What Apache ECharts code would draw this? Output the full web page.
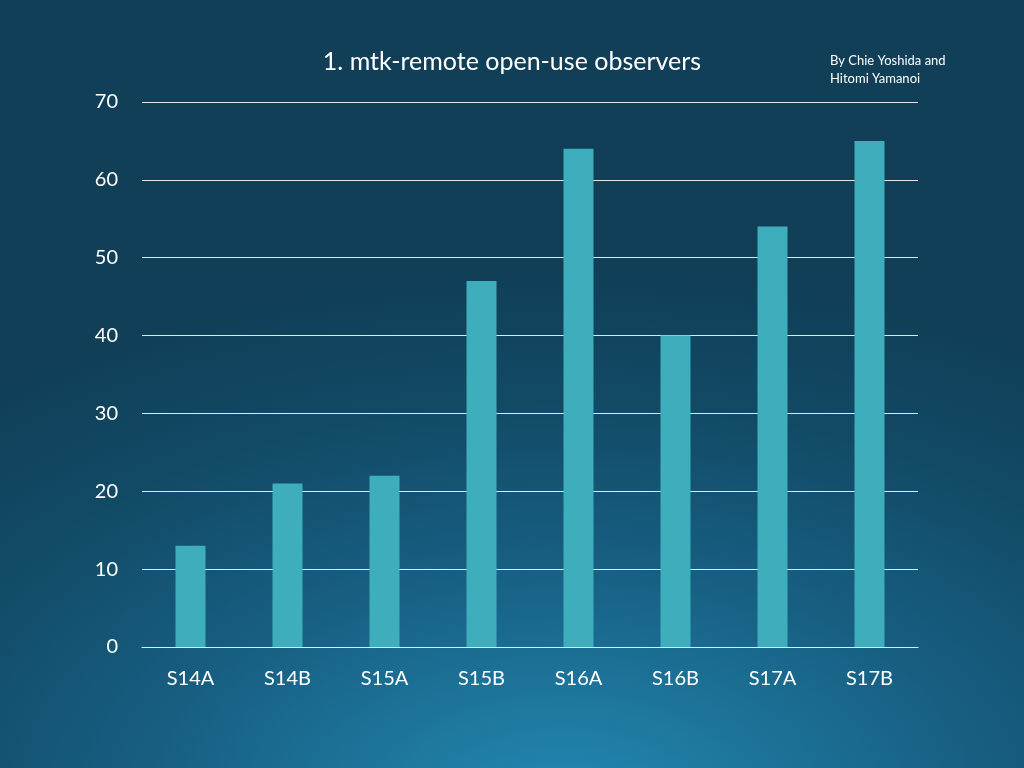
<!DOCTYPE html>
<html><head><meta charset="utf-8">
<script src="https://cdn.jsdelivr.net/npm/echarts@6/dist/echarts.min.js"></script>
<style>html,body{margin:0;padding:0;}#c{width:1024px;height:768px;background:radial-gradient(ellipse 90% 70% at 55% 105%, #2389b3 0%, #175f82 45%, #124a66 75%, #103f57 100%);}</style>
</head><body><div id="c"></div>
<script>
const categories = ["S14A","S14B","S15A","S15B","S16A","S16B","S17A","S17B"];
const values = [13,21,22,47,64,40,54,65];
const chart = echarts.init(document.getElementById('c'));
chart.setOption({
  backgroundColor: 'transparent',
  title: [
    {text:'1. mtk-remote open-use observers', left:507, top:44, textAlign:'center',
     textStyle:{color:'#ffffff', fontSize:25, fontWeight:'normal', fontFamily:'Lato'}},
    {text:'By Chie Yoshida and\nHitomi Yamanoi', left:825, top:47,
     textStyle:{color:'#ffffff', fontSize:13, fontWeight:'normal', fontFamily:'Lato', lineHeight:18}}
  ],
  grid:{left:142, right:106, top:102, bottom:121},
  xAxis:{type:'category', data:categories,
    axisLine:{lineStyle:{color:'#e0e8ee'}}, axisTick:{show:false},
    axisLabel:{color:'#ffffff', fontSize:20, fontFamily:'Lato', margin:22}},
  yAxis:{type:'value', min:0, max:70, interval:10,
    axisLine:{show:false}, axisTick:{show:false},
    splitLine:{lineStyle:{color:'#e0e8ee', width:1}},
    axisLabel:{color:'#ffffff', fontSize:20, fontFamily:'Lato', margin:24}},
  series:[{type:'bar', data:values, barWidth:30, itemStyle:{color:'#3eadbc'}}]
});
</script></body></html>
